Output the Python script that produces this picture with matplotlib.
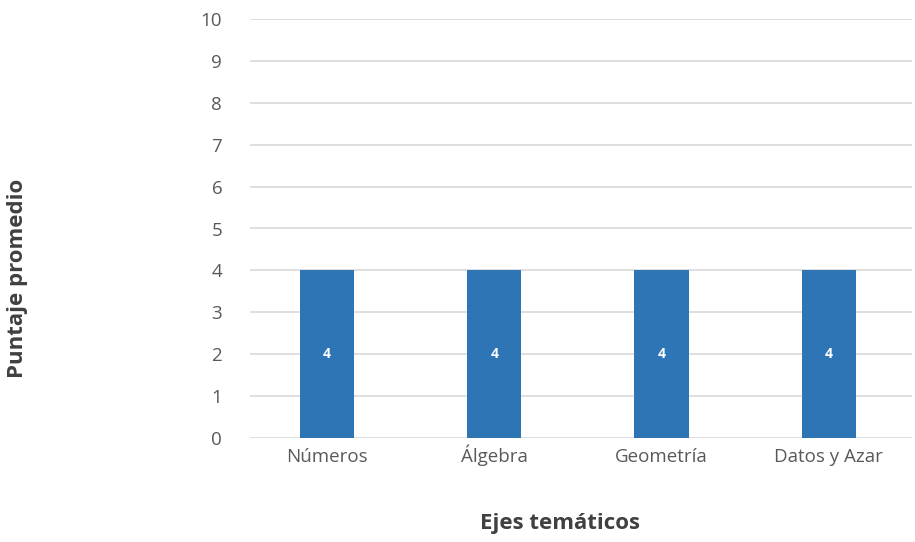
import matplotlib
matplotlib.use("Agg")
import matplotlib.pyplot as plt

categories = ["Números", "Álgebra", "Geometría", "Datos y Azar"]
values = [4, 4, 4, 4]
yticks = list(range(0, 11))

plt.rcParams['font.family'] = ['Open Sans', 'DejaVu Sans']

fig = plt.figure(figsize=(9.15, 5.42), dpi=100)
ax = fig.add_axes([250/915, 1 - 438/542, (912 - 250)/915, (438 - 19)/542])

x = list(range(len(categories)))
bars = ax.bar(x, values, width=0.325, color="#2E75B6", zorder=3)
for xi, v in zip(x, values):
    ax.text(xi, v / 2, f"{v}", ha="center", va="center", color="white",
            fontsize=10, fontweight="bold", zorder=4)

ax.set_xlim(-0.46, 3.497)
ax.set_ylim(0, 10)
ax.set_yticks(yticks)
ax.set_yticklabels([str(t) for t in yticks])
ax.set_xticks(x)
ax.set_xticklabels(categories, va="baseline")
ax.tick_params(axis="both", length=0, labelsize=13.5, labelcolor="#595959")
ax.tick_params(axis="y", pad=20)
ax.tick_params(axis="x", pad=17)
ax.yaxis.grid(True, color="#D9D9D9", linewidth=1.2, zorder=0)
for s in ax.spines.values():
    s.set_visible(False)

fig.text(18/915, 1 - 278/542, "Puntaje promedio", rotation=90, ha="center", va="center",
         fontsize=16, fontweight="bold", color="#404040")
fig.text(560/915, 1 - 523/542, "Ejes temáticos", ha="center", va="center",
         fontsize=16, fontweight="bold", color="#404040")

fig.savefig("out.png", dpi=100)
